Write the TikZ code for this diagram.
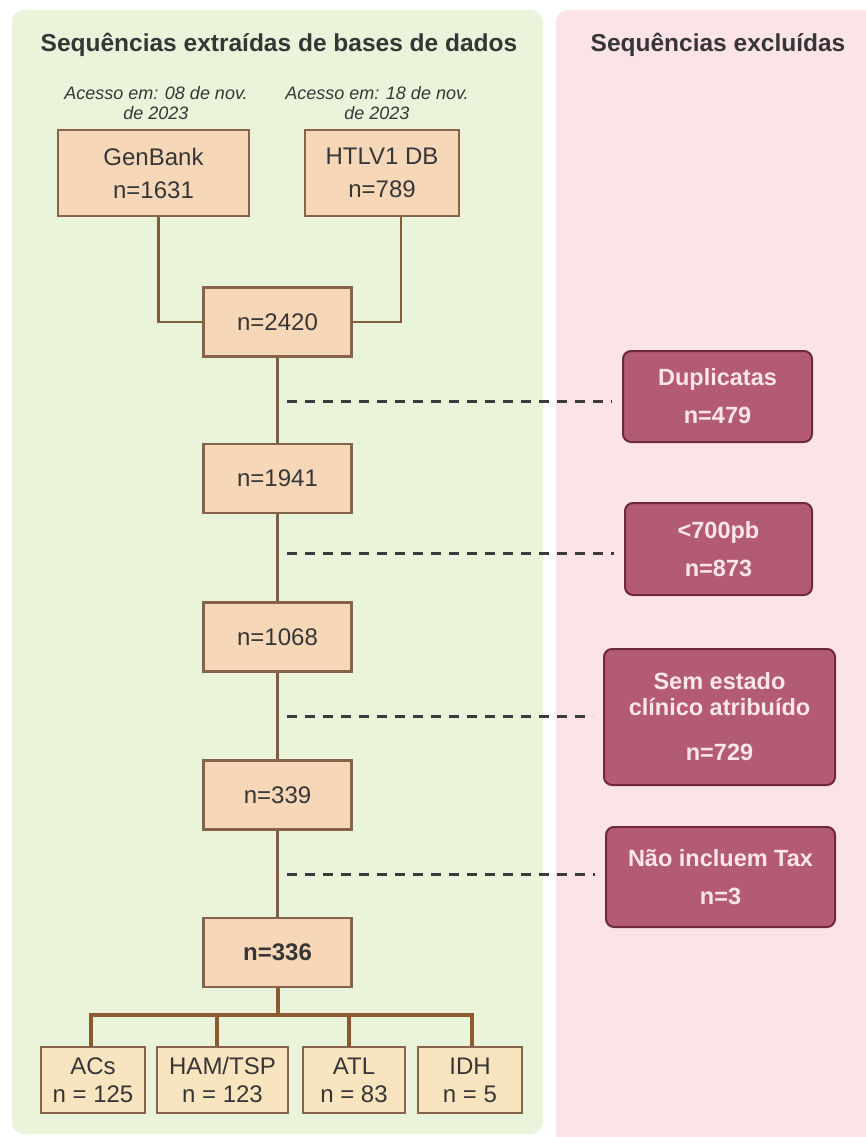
\documentclass[tikz,border=0pt]{standalone}
\usepackage{fontspec}
\setmainfont{Liberation Sans}
\usepackage{tikz}
\usepackage{xcolor}

\definecolor{panelgreen}{HTML}{EAF4DA}
\definecolor{panelpink}{HTML}{FBE3E8}
\definecolor{boxfill}{HTML}{F6D8B8}
\definecolor{boxline}{HTML}{86634A}
\definecolor{subfill}{HTML}{F8E4BE}
\definecolor{exclfill}{HTML}{B35B73}
\definecolor{exclline}{HTML}{6E2A3C}
\definecolor{excltext}{HTML}{FCE6EC}
\definecolor{linkbrown}{HTML}{7F5E40}
\definecolor{branchbrown}{HTML}{8C5A30}
\definecolor{inkgray}{HTML}{363636}
\definecolor{dashgray}{HTML}{3C3C3C}

\begin{document}
\begin{tikzpicture}[x=1pt, y=-1pt,
            block/.style={rectangle, draw=boxline, line width=2.4pt, fill=boxfill, text=inkgray, align=center, inner sep=0pt, minimum width=148pt, minimum height=69pt, font=\fontsize{24}{33}\selectfont},
            subblock/.style={rectangle, draw=boxline, line width=1.8pt, fill=subfill, text=inkgray, align=center, inner sep=0pt, minimum height=66pt, font=\fontsize{24}{28}\selectfont},
            exclbox/.style={rectangle, draw=exclline, line width=2pt, fill=exclfill, text=excltext, align=center, inner sep=0pt, rounded corners=8pt, font=\bfseries\fontsize{23.5}{38}\selectfont},
            heading/.style={text=inkgray, font=\bfseries\fontsize{24.5}{28}\selectfont},
            note/.style={text=inkgray, align=center, font=\itshape\fontsize{18}{20}\selectfont},
            link/.style={draw=linkbrown, line width=2.4pt},
            branch/.style={draw=branchbrown, line width=4pt},
            cutline/.style={draw=dashgray, line width=3pt, dash pattern=on 10pt off 8pt, shorten >=10pt}
        ]
            \useasboundingbox[fill=white] (0,0) rectangle (866,1137);

            % Background panels
            \fill[panelgreen, rounded corners=12pt] (12,10) rectangle (543,1134);
            \fill[panelpink, rounded corners=12pt] (556,10) rectangle (890,1160);

            % Panel headings
            \node[heading] (kepttitle) at (279,45) {Sequências extraídas de bases de dados};
            \node[heading] (droptitle) at (718,45) {Sequências excluídas};

            % Source databases
            \node[note] (genbanknote) at (156,103) {Acesso em: 08 de nov.\\de 2023};
            \node[note] (htlvnote) at (377,103) {Acesso em: 18 de nov.\\de 2023};
            \node[block, minimum width=191pt, minimum height=86pt] (genbank) at (153.5,173) {GenBank\\n=1631};
            \node[block, minimum width=154pt, minimum height=86pt] (htlv) at (382,173) {HTLV1 DB\\n=789};

            % Filtering steps
            \node[block] (n2420) at (277.5,322) {n=2420};
            \node[block] (n1941) at (277.5,478.5) {n=1941};
            \node[block] (n1068) at (277.5,637) {n=1068};
            \node[block] (n339) at (277.5,795) {n=339};
            \node[block, font=\bfseries\fontsize{24}{33}\selectfont] (n336) at (277.5,952.5) {n=336};

            % Clinical groups
            \node[subblock, minimum width=104pt] (acs) at (93,1080) {ACs\\n = 125};
            \node[subblock, minimum width=131pt] (hamtsp) at (222.5,1080) {HAM/TSP\\n = 123};
            \node[subblock, minimum width=102pt] (atl) at (354,1080) {ATL\\n = 83};
            \node[subblock, minimum width=104pt] (idh) at (470,1080) {IDH\\n = 5};

            % Excluded sequences
            \node[exclbox, minimum width=189pt, minimum height=91pt] (dup) at (717.5,396.5) {Duplicatas\\n=479};
            \node[exclbox, minimum width=187pt, minimum height=92pt] (short) at (718.5,549) {<700pb\\n=873};
            \node[exclbox, minimum width=231pt, minimum height=136pt] (noclin) at (719.5,717) {Sem estado\\[-12pt]clínico atribuído\\[7pt]n=729};
            \node[exclbox, minimum width=229pt, minimum height=100pt] (notax) at (720.5,877) {Não incluem Tax\\n=3};

            % Merging the two sources
            \draw[link] ([xshift=5pt]genbank.south) |- (n2420.west);
            \draw[link] ([xshift=19pt]htlv.south) |- (n2420.east);

            % Main trunk
            \draw[link] (n2420) -- (n1941) -- (n1068) -- (n339) -- (n336);

            % Exclusions branching off the trunk
            \coordinate (cut1) at (287,401);
            \coordinate (cut2) at (287,553);
            \coordinate (cut3) at (287,716);
            \coordinate (cut4) at (287,874);
            \draw[cutline] (cut1) -- (dup.west |- cut1);
            \draw[cutline] (cut2) -- (short.west |- cut2);
            \draw[cutline] (cut3) -- (noclin.west |- cut3);
            \draw[cutline] (cut4) -- (notax.west |- cut4);

            % Split into clinical groups
            \coordinate (split) at (277.5,1015);
            \draw[branch] (n336) -- (split);
            \draw[branch] (split) -| ([xshift=-2pt]acs.north);
            \draw[branch] (split) -| ([xshift=-6pt]hamtsp.north);
            \draw[branch] (split) -| ([xshift=-5pt]atl.north);
            \draw[branch] (split) -| ([xshift=2pt]idh.north);
        \end{tikzpicture}
\end{document}
